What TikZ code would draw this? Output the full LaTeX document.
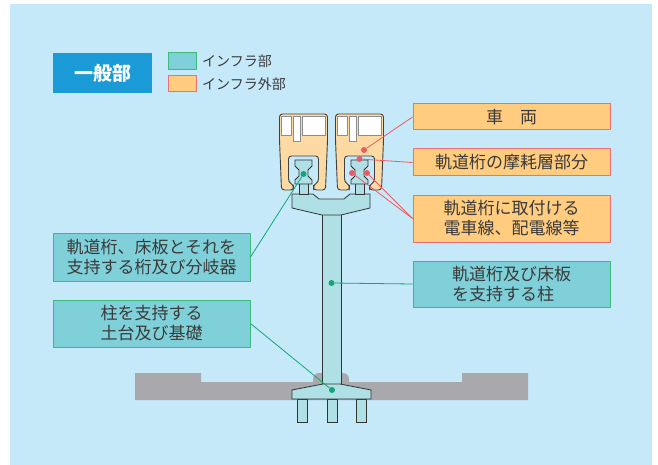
\documentclass[tikz,border=0pt]{standalone}
\usepackage{fontspec}
\setmainfont{Noto Sans CJK JP}
\definecolor{bg}{HTML}{C6E9F9}
\definecolor{infra}{HTML}{7FD0D9}
\definecolor{infraline}{HTML}{3DBB7F}
\definecolor{ext}{HTML}{FFCC80}
\definecolor{extline}{HTML}{EE6F77}
\definecolor{car}{HTML}{FDD9A3}
\definecolor{beam}{HTML}{AEE0E6}
\definecolor{ground}{HTML}{A8A8AD}
\definecolor{gdot}{HTML}{12A57A}
\definecolor{rdot}{HTML}{EE5A62}
\definecolor{general}{HTML}{1A9BD7}
\definecolor{txt}{HTML}{3A3A3A}

\begin{document}
\begin{tikzpicture}[x=1pt,y=-1pt,font=\fontsize{17}{20}\selectfont]
\tikzstyle{inf}=[draw=infraline,fill=infra,line width=1pt,minimum width=197pt,align=left,text=txt,inner sep=0]
\tikzstyle{ext}=[draw=extline,fill=ext,line width=1pt,minimum width=197pt,align=left,text=txt,inner sep=0]
\tikzstyle{part}=[draw=black!80,fill=beam,line width=0.8pt]
\tikzstyle{gd}=[circle,fill=gdot,inner sep=0,minimum size=6pt]
\tikzstyle{rd}=[circle,fill=rdot,inner sep=0,minimum size=6pt]
\tikzstyle{gl}=[gdot,line width=0.8pt]
\tikzstyle{rl}=[rdot,line width=0.8pt]

    \useasboundingbox (0,0) rectangle (658,465);
    \fill[bg] (10,4) rectangle (652,465);

    % ground
    \fill[ground] (135,373) -- (201,373) -- (201,382) -- (462,382) -- (462,373)
        -- (528,373) -- (528,400) -- (135,400) -- cycle;
    \fill[ground, rounded corners=6pt] (313,390) -- (313,373) -- (349,373) -- (349,390) -- cycle;

    % column, footing, piles
    \draw[part] (322,205) rectangle (341,384);
    \draw[part] (297,399) rectangle (307,422);
    \draw[part] (327,399) rectangle (337,422);
    \draw[part] (356,399) rectangle (366,422);
    \draw[part] (292,390) -- (323,384) -- (340,384) -- (371,390) -- (371,399) -- (292,399) -- cycle;

    % crossbeam
    \draw[part] (292,194) -- (313,194) -- (319,199) -- (344,199) -- (350,194) -- (370,194)
        -- (370,208) -- (341,215) -- (322,215) -- (292,208) -- cycle;

    % rails and cars
    \foreach \cx in {303.5,359.5}{
        \draw[part] ({\cx-4.5},183) rectangle ({\cx+4.5},194);
        \draw[part] ({\cx-8.5},160) -- ({\cx+8.5},160) -- ({\cx+8.5},166) -- ({\cx+4.5},170)
            -- ({\cx+4.5},176) -- ({\cx+8.5},180) -- ({\cx+8.5},184) -- ({\cx-8.5},184)
            -- ({\cx-8.5},180) -- ({\cx-4.5},176) -- ({\cx-4.5},170) -- ({\cx-8.5},166) -- cycle;
        \draw[fill=car, draw=black!75, line width=0.9pt, rounded corners=3pt]
            ({\cx-24},140) -- ({\cx-24},114) -- ({\cx+24},114) -- ({\cx+24},140)
            -- ({\cx+22},190) -- ({\cx+10},190) -- ({\cx+10},185) -- ({\cx+15},182)
            -- ({\cx+15},156) -- ({\cx-15},156) -- ({\cx-15},182) -- ({\cx-10},185)
            -- ({\cx-10},190) -- ({\cx-22},190) -- cycle;
        \draw[fill=white, draw=black!45, line width=0.6pt] ({\cx-22},116) rectangle ({\cx-12},135);
        \draw[fill=white, draw=black!45, line width=0.6pt] ({\cx-10},116) rectangle ({\cx-3},141);
        \draw[fill=white, draw=black!45, line width=0.6pt] ({\cx-1},116) rectangle ({\cx+22},135);
    }

    % legend
    \node[fill=general, minimum width=99pt, minimum height=40pt, text=white,
        font=\fontsize{19}{20}\selectfont\bfseries] (gen) at (102.5,73) {一般部};
    \node[draw=infraline, fill=infra, line width=1pt, minimum width=28pt, minimum height=17pt, inner sep=0] (k1) at (182,61.5) {};
    \node[draw=extline, fill=ext, line width=1pt, minimum width=28pt, minimum height=16pt, inner sep=0] (k2) at (182,84) {};
    \node[anchor=west, text=txt, inner sep=0, font=\fontsize{14}{16}\selectfont] (t1) at (202,61.5) {インフラ部};
    \node[anchor=west, text=txt, inner sep=0, font=\fontsize{14}{16}\selectfont] (t2) at (202,84) {インフラ外部};

    % label boxes
    \node[ext, minimum height=26pt] (b1) at (511.5,117) {車　両};
    \node[ext, minimum height=27pt] (b2) at (511.5,162.5) {軌道桁の摩耗層部分};
    \node[ext, minimum height=47pt] (b3) at (511.5,218.5) {軌道桁に取付ける\\電車線、配電線等};
    \node[inf, minimum height=46pt] (b4) at (511.5,284) {軌道桁及び床板\\を支持する柱};
    \node[inf, minimum height=48pt] (b5) at (151.5,257) {軌道桁、床板とそれを\\支持する桁及び分岐器};
    \node[inf, minimum height=47pt] (b6) at (151.5,323.5) {柱を支持する\\土台及び基礎};

    % dots
    \node[gd] (g1) at (303.5,174) {};
    \node[gd] (g2) at (331.5,283) {};
    \node[gd] (g3) at (332,390) {};
    \node[rd] (r1) at (364,150) {};
    \node[rd] (r2) at (359.5,159) {};
    \node[rd] (r3) at (352,173) {};
    \node[rd] (r4) at (367,173) {};

    \draw[gl] (g1) -- (b5.east);
    \draw[gl] (g2) -- (b4.west);
    \draw[gl] (g3) -- (b6.east);
    \draw[rl] (r1) -- (b1.west);
    \draw[rl] (r2) -- (b2.west);
    \draw[rl] (r3) -- (b3.west);
    \draw[rl] (r4) -- (b3.west);

\end{tikzpicture}
\end{document}
